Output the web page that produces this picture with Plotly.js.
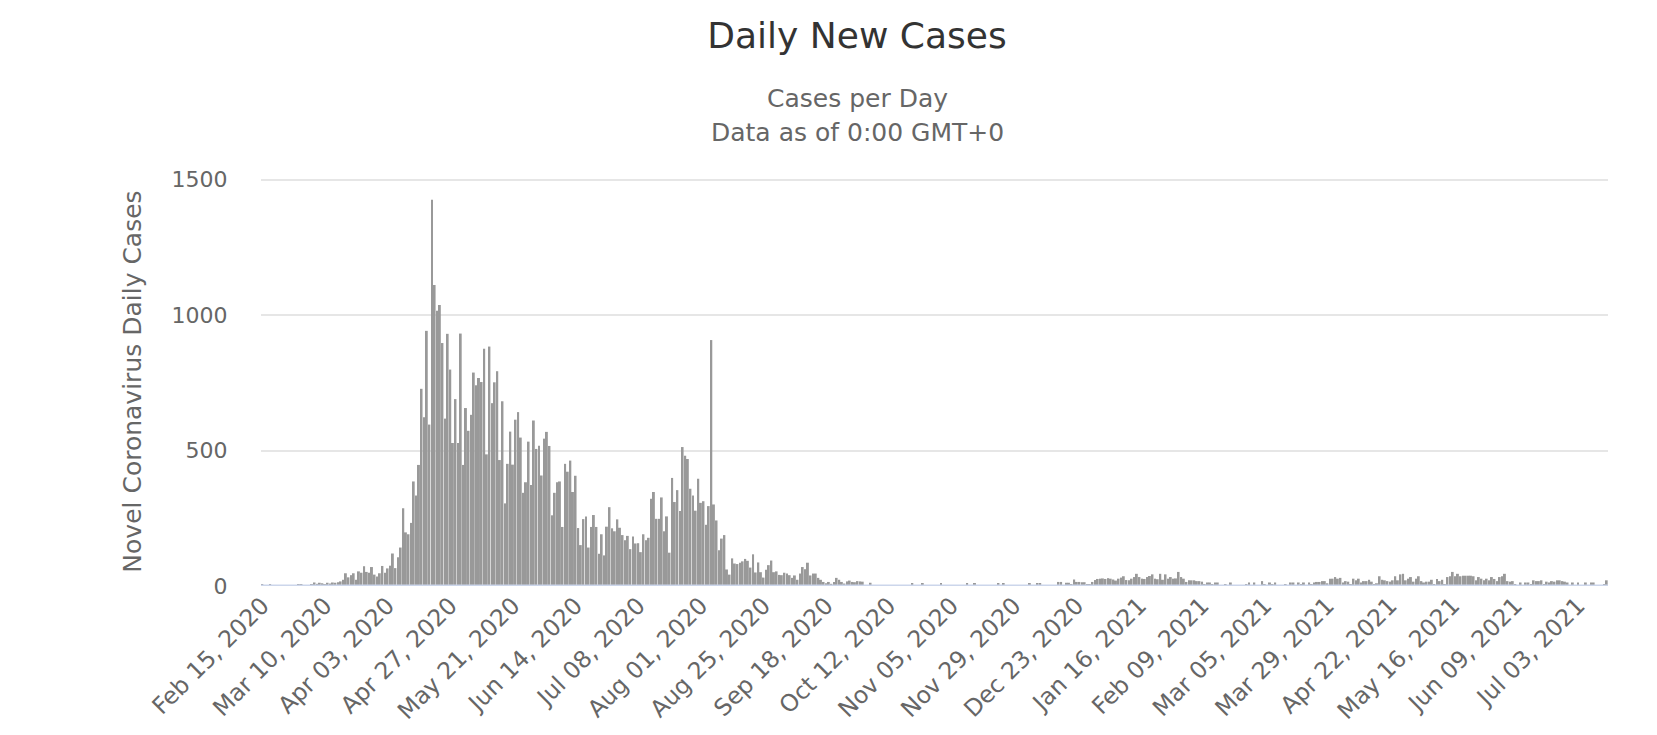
<!DOCTYPE html>
<html>
<head>
<meta charset="utf-8">
<script src="https://cdn.plot.ly/plotly-3.0.1.min.js"></script>
<style>
  html, body { margin: 0; padding: 0; background: #fff; }
  #chart { width: 1657px; height: 735px; }
</style>
</head>
<body>
<div id="chart"></div>
<script>
// daily new cases, one array per month (first day shown: Feb 15, 2020)
const FEB_2020 = [5, 3, 2, 4, 3, 1, 1, 3, 0, 1, 1, 2, 3, 2, 4];
const MAR_2020 = [4, 2, 2, 2, 5, 13, 8, 12, 10, 6, 12, 9, 13, 12, 14, 17, 23, 47, 32, 40,
                  47, 23, 54, 49, 73, 52, 49, 70, 42, 35, 47];
const APR_2020 = [74, 49, 65, 75, 120, 66, 106, 142, 287, 198, 191, 233, 386, 334, 447, 728,
                  623, 942, 596, 1426, 1111, 1016, 1037, 897, 618, 931, 799, 528, 690, 528];
const MAY_2020 = [932, 447, 657, 573, 632, 788, 741, 768, 753, 876, 486, 884, 675, 752, 793,
                  465, 682, 305, 451, 570, 448, 614, 642, 548, 344, 383, 533, 373, 611, 506, 518];
const JUN_2020 = [408, 544, 569, 517, 261, 344, 383, 386, 218, 451, 422, 463, 347, 407, 214,
                  151, 247, 257, 142, 218, 262, 218, 119, 191, 113, 219, 291, 213, 202, 246];
const JUL_2020 = [215, 188, 169, 185, 136, 183, 157, 158, 125, 191, 169, 178, 322, 347, 248,
                  248, 327, 202, 257, 123, 399, 310, 354, 277, 513, 481, 469, 359, 334, 278, 396];
const AUG_2020 = [307, 313, 226, 295, 908, 301, 242, 132, 175, 188, 61, 42, 102, 83, 81, 86,
                  91, 100, 93, 68, 117, 50, 87, 51, 31, 60, 77, 94, 51, 54, 41];
const SEP_2020 = [40, 49, 46, 40, 30, 39, 23, 46, 70, 62, 86, 39, 46, 46, 30, 23, 15, 10, 15,
                  8, 15, 30, 23, 15, 9, 17, 20, 15, 14, 18];
const OCT_2020 = [17, 16, 3, 3, 12, 3, 2, 3, 3, 2, 3, 3, 2, 3, 3, 2, 3, 2, 3, 3, 11, 2, 3, 3,
                  11, 3, 2, 3, 2, 3, 2];
const NOV_2020 = [11, 3, 2, 3, 2, 3, 2, 3, 3, 2, 11, 3, 2, 11, 3, 3, 2, 3, 2, 3, 3, 2, 11, 3,
                  11, 2, 3, 3, 2, 3];
const DEC_2020 = [3, 2, 3, 2, 11, 3, 2, 11, 11, 3, 3, 2, 3, 3, 2, 15, 15, 3, 12, 12, 5, 24,
                  15, 15, 14, 14, 4, 5, 15, 22, 26];
const JAN_2021 = [27, 28, 26, 29, 27, 24, 20, 27, 31, 36, 22, 21, 27, 33, 45, 33, 27, 26, 33,
                  37, 43, 27, 25, 45, 23, 43, 27, 33, 27, 28, 52];
const FEB_2021 = [33, 27, 15, 21, 21, 21, 18, 18, 16, 5, 13, 13, 4, 13, 13, 3, 3, 4, 3, 13, 3,
                  3, 2, 3, 3, 4, 13, 3];
const MAR_2021 = [13, 3, 3, 18, 4, 3, 13, 4, 13, 3, 3, 2, 4, 3, 13, 13, 3, 13, 4, 13, 3, 13,
                  4, 13, 15, 15, 18, 18, 10, 27, 27];
const APR_2021 = [33, 27, 30, 13, 18, 16, 4, 27, 21, 27, 13, 18, 18, 23, 16, 5, 10, 36, 23, 21,
                  18, 16, 21, 36, 21, 43, 45, 21, 27, 33];
const MAY_2021 = [16, 27, 36, 18, 13, 16, 16, 23, 5, 26, 18, 23, 5, 33, 36, 52, 36, 45, 36, 38,
                  38, 38, 38, 36, 21, 33, 27, 21, 27, 21, 33];
const JUN_2021 = [26, 18, 33, 36, 45, 18, 16, 18, 4, 3, 13, 3, 13, 13, 4, 21, 18, 18, 21, 4,
                  16, 13, 18, 16, 21, 21, 18, 16, 13, 3];
const JUL_2021 = [13, 3, 13, 3, 2, 13, 3, 13, 13, 3, 2, 3, 4, 21];

const DAILY_CASES = [].concat(FEB_2020, MAR_2020, APR_2020, MAY_2020, JUN_2020, JUL_2020,
  AUG_2020, SEP_2020, OCT_2020, NOV_2020, DEC_2020, JAN_2021, FEB_2021, MAR_2021,
  APR_2021, MAY_2021, JUN_2021, JUL_2021);

const TICK_LABELS = ["Feb 15, 2020", "Mar 10, 2020", "Apr 03, 2020", "Apr 27, 2020",
  "May 21, 2020", "Jun 14, 2020", "Jul 08, 2020", "Aug 01, 2020", "Aug 25, 2020",
  "Sep 18, 2020", "Oct 12, 2020", "Nov 05, 2020", "Nov 29, 2020", "Dec 23, 2020",
  "Jan 16, 2021", "Feb 09, 2021", "Mar 05, 2021", "Mar 29, 2021", "Apr 22, 2021",
  "May 16, 2021", "Jun 09, 2021", "Jul 03, 2021"];

const Y_TICKS = [0, 500, 1000, 1500];

// category labels, one per day
const MONTHS = ["Jan","Feb","Mar","Apr","May","Jun","Jul","Aug","Sep","Oct","Nov","Dec"];
const START = Date.UTC(2020, 1, 15);
const days = DAILY_CASES.map(function(_, i){
  const d = new Date(START + i * 86400000);
  const dd = String(d.getUTCDate()).padStart(2, "0");
  return MONTHS[d.getUTCMonth()] + " " + dd + ", " + d.getUTCFullYear();
});

const FONT = "DejaVu Sans";

const trace = {
  x: days, y: DAILY_CASES, type: "bar", name: "Daily Cases",
  marker: { color: "#999999", line: { width: 0 } },
  hoverinfo: "x+y"
};

const layout = {
  width: 1657, height: 735,
  margin: { l: 261, r: 49, t: 177, b: 149 },
  paper_bgcolor: "#ffffff", plot_bgcolor: "#ffffff",
  font: { family: FONT, color: "#666666" },
  showlegend: false,
  bargap: 0.25,
  title: {
    text: "Daily New Cases",
    font: { family: FONT, size: 36, color: "#333333" },
    xref: "container", x: 857 / 1657, xanchor: "center",
    yref: "container", y: 1 - 35 / 735, yanchor: "middle"
  },
  annotations: [
    { text: "Cases per Day", xref: "paper", yref: "paper", x: 0.4425, y: 1.193,
      xanchor: "center", yanchor: "middle", showarrow: false,
      font: { family: FONT, size: 25, color: "#666666" } },
    { text: "Data as of 0:00 GMT+0", xref: "paper", yref: "paper", x: 0.4425, y: 1.110,
      xanchor: "center", yanchor: "middle", showarrow: false,
      font: { family: FONT, size: 25, color: "#666666" } }
  ],
  xaxis: {
    type: "category",
    tickvals: TICK_LABELS, ticktext: TICK_LABELS,
    tickangle: -45,
    tickfont: { family: FONT, size: 23.5, color: "#666666" },
    ticks: "", showgrid: false, showline: false, zeroline: false
  },
  yaxis: {
    range: [0, 1510],
    tickvals: Y_TICKS,
    tickfont: { family: FONT, size: 22, color: "#666666" },
    ticks: "outside", ticklen: 28, tickcolor: "rgba(0,0,0,0)",
    gridcolor: "#e6e6e6", gridwidth: 2,
    showline: false, zeroline: false,
    title: { text: "Novel Coronavirus Daily Cases", standoff: 22,
             font: { family: FONT, size: 25, color: "#666666" } }
  },
  shapes: [
    { type: "line", xref: "paper", yref: "y", x0: 0, x1: 1, y0: 0, y1: 0,
      line: { color: "#ccd6eb", width: 3 }, layer: "above" }
  ]
};

Plotly.newPlot("chart", [trace], layout, { displayModeBar: false, responsive: false });
</script>
</body>
</html>
